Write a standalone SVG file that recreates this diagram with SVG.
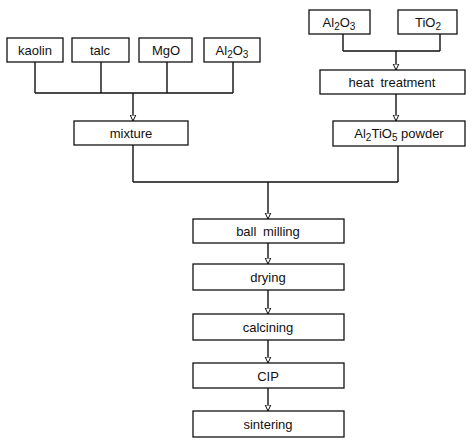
<svg xmlns="http://www.w3.org/2000/svg" width="474" height="440" viewBox="0 0 474 440">
<defs>
<style>
.box{fill:#fff;stroke:#111;stroke-width:1.3}
.t{font-family:"Liberation Sans",Arial,sans-serif;font-size:13px;fill:#111;text-anchor:middle}
.s{font-size:10px}
.c{fill:none;stroke:#111;stroke-width:1.4}
.a{fill:none;stroke:#111;stroke-width:1.4;marker-end:url(#arr)}
</style>
<marker id="arr" markerWidth="8" markerHeight="8" refX="6.5" refY="4" orient="auto" markerUnits="userSpaceOnUse" viewBox="0 0 8 8">
<path d="M0.5,1.2 L6.5,4 L0.5,6.8 Z" fill="#fff" stroke="#111" stroke-width="1"/>
</marker>
</defs>
<rect width="474" height="440" fill="#fff"/>
<g id="connectors">
<path class="c" d="M35,62 V93 M101,62 V93 M167,62 V93 M233,62 V93 M35,93 H233"/>
<path class="a" d="M133,93 V121"/>
<path class="c" d="M343,34 V51 M440,34 V51 M343,51 H440"/>
<path class="a" d="M396,51 V70"/>
<path class="a" d="M396,94 V121"/>
<path class="c" d="M133,145 V182 M398,146 V182 M133,182 H398"/>
<path class="a" d="M268,182 V219"/>
<path class="a" d="M268,243 V264"/>
<path class="a" d="M268,290 V314"/>
<path class="a" d="M268,340 V363"/>
<path class="a" d="M268,388 V411"/>
</g>
<g id="kaolin"><rect class="box" x="7" y="38" width="56" height="24"/><text class="t" x="35" y="54.5">kaolin</text></g>
<g id="talc"><rect class="box" x="72" y="38" width="57" height="24"/><text class="t" x="100" y="54.5">talc</text></g>
<g id="mgo"><rect class="box" x="139" y="38" width="53" height="24"/><text class="t" x="166" y="54.5">MgO</text></g>
<g id="al2o3-a"><rect class="box" x="204" y="38" width="56" height="24"/><text class="t" x="232" y="54.5">Al<tspan class="s" dy="3">2</tspan><tspan dy="-3">O</tspan><tspan class="s" dy="3">3</tspan></text></g>
<g id="mixture"><rect class="box" x="74" y="121" width="114" height="24"/><text class="t" x="131" y="137.5">mixture</text></g>
<g id="al2o3-b"><rect class="box" x="309" y="10" width="61" height="24"/><text class="t" x="339" y="26.5">Al<tspan class="s" dy="3">2</tspan><tspan dy="-3">O</tspan><tspan class="s" dy="3">3</tspan></text></g>
<g id="tio2"><rect class="box" x="398" y="10" width="59" height="24"/><text class="t" x="428" y="26.5">TiO<tspan class="s" dy="3">2</tspan></text></g>
<g id="heat"><rect class="box" x="320" y="70" width="145" height="24"/><text class="t" x="392" y="86.5" word-spacing="3">heat treatment</text></g>
<g id="al2tio5"><rect class="box" x="333" y="121" width="132" height="25"/><text class="t" x="399" y="138">Al<tspan class="s" dy="3">2</tspan><tspan dy="-3">TiO</tspan><tspan class="s" dy="3">5</tspan><tspan dy="-3"> powder</tspan></text></g>
<g id="ball"><rect class="box" x="193" y="219" width="151" height="24"/><text class="t" x="268" y="235.5" word-spacing="3">ball milling</text></g>
<g id="drying"><rect class="box" x="193" y="264" width="151" height="26"/><text class="t" x="268" y="281.5">drying</text></g>
<g id="calcining"><rect class="box" x="193" y="314" width="151" height="26"/><text class="t" x="268" y="331.5">calcining</text></g>
<g id="cip"><rect class="box" x="193" y="363" width="151" height="25"/><text class="t" x="268" y="380.5">CIP</text></g>
<g id="sintering"><rect class="box" x="193" y="411" width="151" height="26"/><text class="t" x="268" y="428.5">sintering</text></g>
</svg>
